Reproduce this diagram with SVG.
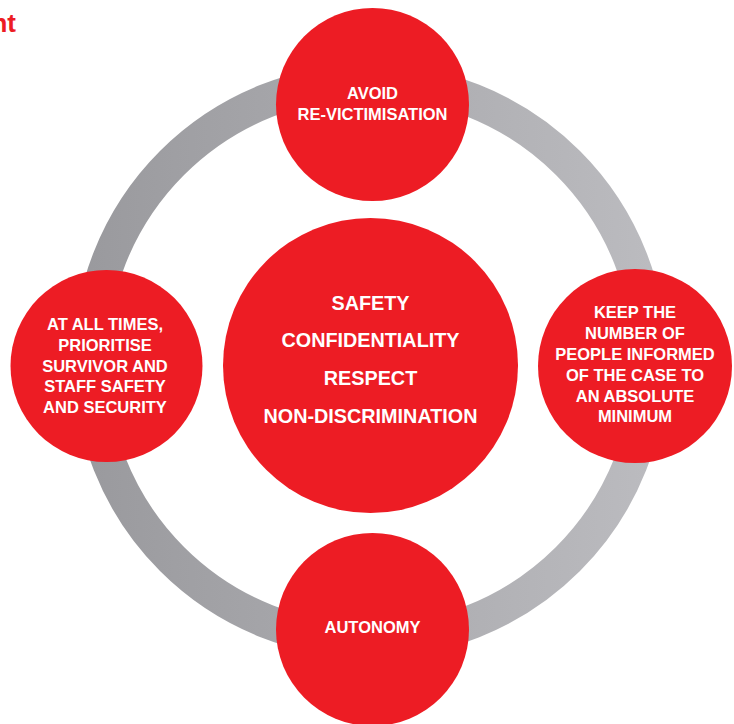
<svg xmlns="http://www.w3.org/2000/svg" width="734" height="724" viewBox="0 0 734 724">
  <defs>
    <linearGradient id="ringGrad" gradientUnits="userSpaceOnUse" x1="90" y1="0" x2="650" y2="0">
      <stop offset="0" stop-color="#9a9a9e"/>
      <stop offset="1" stop-color="#bbbbbf"/>
    </linearGradient>
    <style>
      .node { fill: #ed1c24; }
      .lbl { fill: #ffffff; font-family: "Liberation Sans", Arial, sans-serif; font-weight: bold; font-size: 16.5px; text-anchor: middle; }
      .big { font-size: 19.8px; }
      .title { fill: #ed1c24; font-family: "Liberation Sans", Arial, sans-serif; font-weight: bold; font-size: 26px; text-anchor: end; }
    </style>
  </defs>
  <rect width="734" height="724" fill="#ffffff"/>
  <text class="title" x="16" y="32">nt</text>
  <g id="connectors">
    <circle cx="370" cy="361" r="280" fill="none" stroke="url(#ringGrad)" stroke-width="34"/>
  </g>
  <g id="node-center">
    <circle class="node" cx="370.5" cy="365.5" r="147.5"/>
    <text class="lbl big" x="370.5" y="310">SAFETY</text>
    <text class="lbl big" x="370.5" y="347">CONFIDENTIALITY</text>
    <text class="lbl big" x="370.5" y="385">RESPECT</text>
    <text class="lbl big" x="370.5" y="423">NON-DISCRIMINATION</text>
  </g>
  <g id="node-top">
    <circle class="node" cx="372.5" cy="104.5" r="96.5"/>
    <text class="lbl" x="372.5" y="99">AVOID</text>
    <text class="lbl" x="372.5" y="119.5">RE-VICTIMISATION</text>
  </g>
  <g id="node-left">
    <circle class="node" cx="106.5" cy="366" r="96"/>
    <text class="lbl" x="105" y="330">AT ALL TIMES,</text>
    <text class="lbl" x="105" y="351">PRIORITISE</text>
    <text class="lbl" x="105" y="371.5">SURVIVOR AND</text>
    <text class="lbl" x="105" y="392">STAFF SAFETY</text>
    <text class="lbl" x="105" y="412.5">AND SECURITY</text>
  </g>
  <g id="node-right">
    <circle class="node" cx="635" cy="366" r="97"/>
    <text class="lbl" x="635" y="318">KEEP THE</text>
    <text class="lbl" x="635" y="339">NUMBER OF</text>
    <text class="lbl" x="635" y="360">PEOPLE INFORMED</text>
    <text class="lbl" x="635" y="381">OF THE CASE TO</text>
    <text class="lbl" x="635" y="401.5">AN ABSOLUTE</text>
    <text class="lbl" x="635" y="422">MINIMUM</text>
  </g>
  <g id="node-bottom">
    <circle class="node" cx="372.5" cy="629.5" r="96.5"/>
    <text class="lbl" x="372.5" y="633">AUTONOMY</text>
  </g>
</svg>
